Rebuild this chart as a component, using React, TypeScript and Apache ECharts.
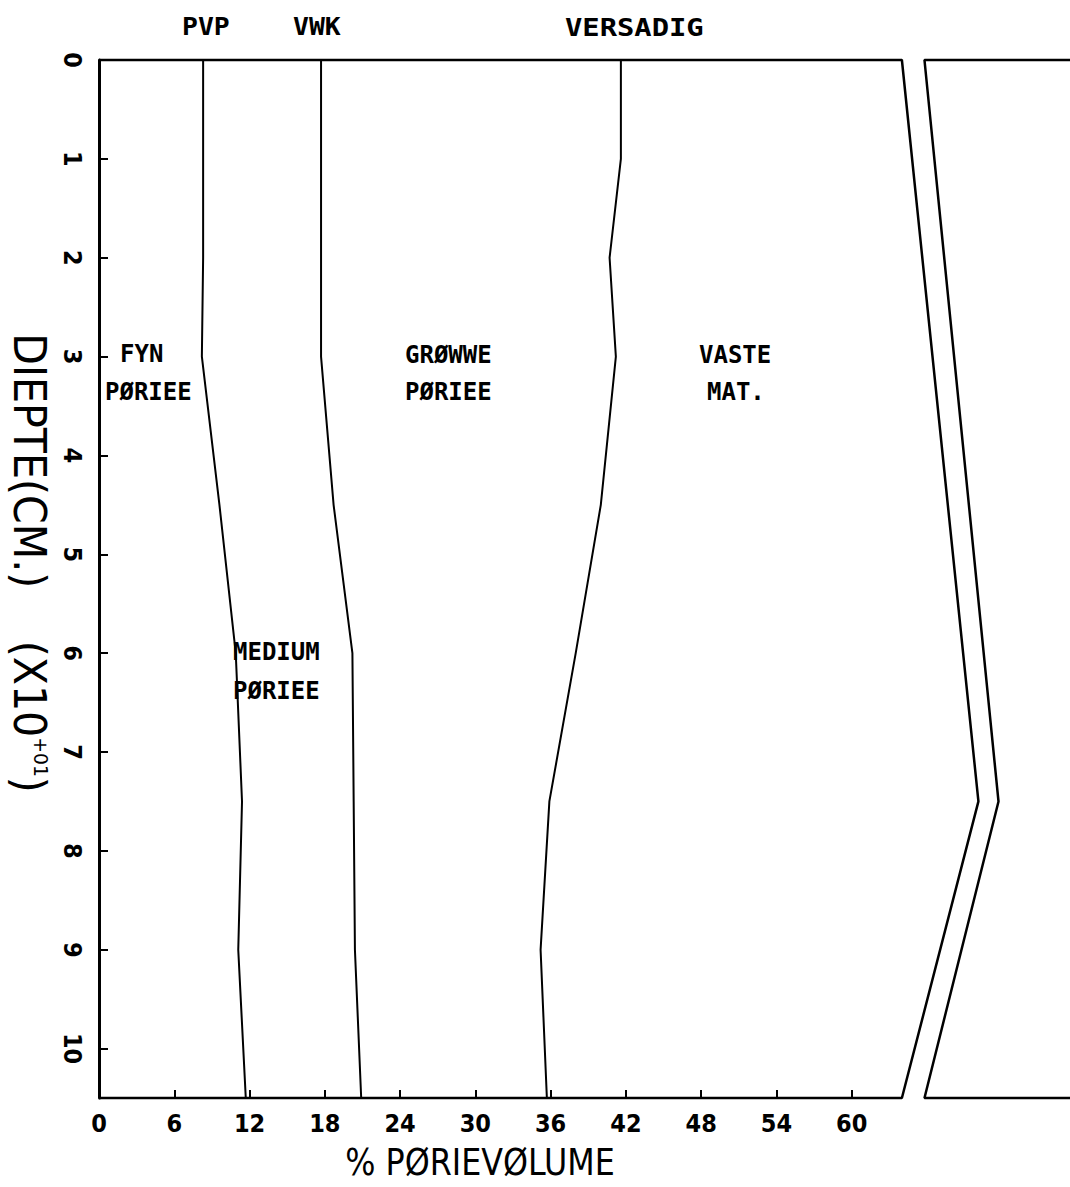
import React, { useEffect, useRef } from "react";
import * as echarts from "echarts";

// depth in units of 10 cm (x10+01 cm)
const depths = [0, 1, 2, 3, 4.5, 6, 7.5, 9, 10.5];
// % pore volume boundaries
const pvp = [8.3, 8.3, 8.3, 8.2, 9.6, 10.9, 11.4, 11.1, 11.7];
const vwk = [17.7, 17.7, 17.7, 17.7, 18.7, 20.2, 20.3, 20.4, 20.9];
const versadig = [41.6, 41.6, 40.7, 41.2, 40.0, 38.0, 35.9, 35.2, 35.7];

const xLabelValues = [0, 6, 12, 18, 24, 30, 36, 42, 48, 54, 60];
const xTickValues = [6, 12, 18, 24, 30, 36, 42, 48, 54, 60];
const yLabelValues = [0, 1, 2, 3, 4, 5, 6, 7, 8, 9, 10];
const yTickValues = [1, 2, 3, 4, 5, 6, 7, 8, 9, 10];

// axis-break outline (frame is cut between the two zig-zags)
const X_MAX = 77.4;
const Y_MAX = 10.5;
const leftFrame: [number, number][] = [[0, 0], [64, 0], [70.1, 7.5], [64, 10.5], [0, 10.5]];
const rightFrame: [number, number][] = [[X_MAX, 0], [65.8, 0], [71.7, 7.5], [65.8, 10.5], [X_MAX, 10.5]];

const TITLE_FONT = '"DejaVu Sans Condensed", "DejaVu Sans", sans-serif';
const TICK_FONT = '"DejaVu Sans Condensed", "DejaVu Sans", sans-serif';
const LABEL_FONT = '"DejaVu Sans Mono", "Liberation Mono", monospace';

const toPts = (xs: number[]) => xs.map((x, i) => [x, depths[i]]);

export default function App() {
  const ref = useRef<HTMLDivElement>(null);
  useEffect(() => {
    if (!ref.current) return;
    const chart = echarts.init(ref.current, undefined, { renderer: "svg" });
    const lineSeries = (name: string, data: number[][], width = 2) => ({
      name,
      type: "line",
      data,
      symbol: "none",
      clip: false,
      silent: true,
      lineStyle: { color: "#000", width },
    });
    const ann = (text: string, x: number, y: number, scaleX = 1) => ({
      type: "text",
      x,
      y,
      scaleX,
      style: {
        text,
        fill: "#000",
        font: `bold 24px ${LABEL_FONT}`,
        textVerticalAlign: "middle",
        verticalAlign: "middle",
      },
    });
    chart.setOption({
      animation: false,
      backgroundColor: "#fff",
      grid: { left: 99, right: 0, top: 60, bottom: 89, containLabel: false },
      xAxis: {
        type: "value",
        min: 0,
        max: X_MAX,
        position: "bottom",
        axisLine: { show: false, onZero: false },
        axisTick: {
          show: true,
          inside: true,
          length: 8,
          customValues: xTickValues,
          lineStyle: { color: "#000", width: 2 },
        },
        axisLabel: {
          customValues: xLabelValues,
          margin: 13,
          color: "#000",
          fontSize: 25,
          fontWeight: "bold",
          fontFamily: TICK_FONT,
        },
        splitLine: { show: false },
      },
      yAxis: {
        type: "value",
        min: 0,
        max: Y_MAX,
        inverse: true,
        axisLine: { show: true, onZero: false, lineStyle: { color: "#000", width: 3 } },
        axisTick: {
          show: true,
          inside: true,
          length: 9,
          customValues: yTickValues,
          lineStyle: { color: "#000", width: 2 },
        },
        axisLabel: {
          customValues: yLabelValues,
          rotate: -90,
          margin: 14,
          color: "#000",
          fontSize: 25,
          fontWeight: "bold",
          fontFamily: TICK_FONT,
        },
        splitLine: { show: false },
      },
      series: [
        lineSeries("frameLeft", leftFrame, 2.5),
        lineSeries("frameRight", rightFrame, 2.5),
        lineSeries("PVP", toPts(pvp)),
        lineSeries("VWK", toPts(vwk)),
        lineSeries("VERSADIG", toPts(versadig)),
      ],
      graphic: [
        ann("PVP", 182, 27, 1.1),
        ann("VWK", 293, 27, 1.1),
        ann("VERSADIG", 565, 27, 1.2),
        ann("FYN", 120, 354),
        ann("PØRIEE", 105, 392),
        ann("GRØWWE", 405, 355),
        ann("PØRIEE", 405, 392),
        ann("VASTE", 699, 355),
        ann("MAT.", 707, 392),
        ann("MEDIUM", 233, 652),
        ann("PØRIEE", 233, 691),
        {
          type: "text",
          x: 480,
          y: 1162,
          scaleX: 0.93,
          style: {
            text: "% PØRIEVØLUME",
            fill: "#000",
            font: `38px ${TITLE_FONT}`,
            textAlign: "center",
            textVerticalAlign: "middle",
            verticalAlign: "middle",
            align: "center",
          },
        },
        {
          type: "text",
          x: 29,
          y: 563,
          rotation: -Math.PI / 2,
          scaleX: 1.04,
          style: {
            text: "DIEPTE(CM.)    (X10{s|+01})",
            fill: "#000",
            font: `44px ${TITLE_FONT}`,
            textAlign: "center",
            textVerticalAlign: "middle",
            verticalAlign: "middle",
            align: "center",
            rich: {
              s: { fontSize: 20, fontFamily: TITLE_FONT, verticalAlign: "top", lineHeight: 44 },
            },
          },
        },
      ],
    });
    return () => chart.dispose();
  }, []);
  return (
    <div
      ref={ref}
      style={{ position: "absolute", left: 0, top: 0, width: 1070, height: 1187, background: "#fff" }}
    />
  );
}
